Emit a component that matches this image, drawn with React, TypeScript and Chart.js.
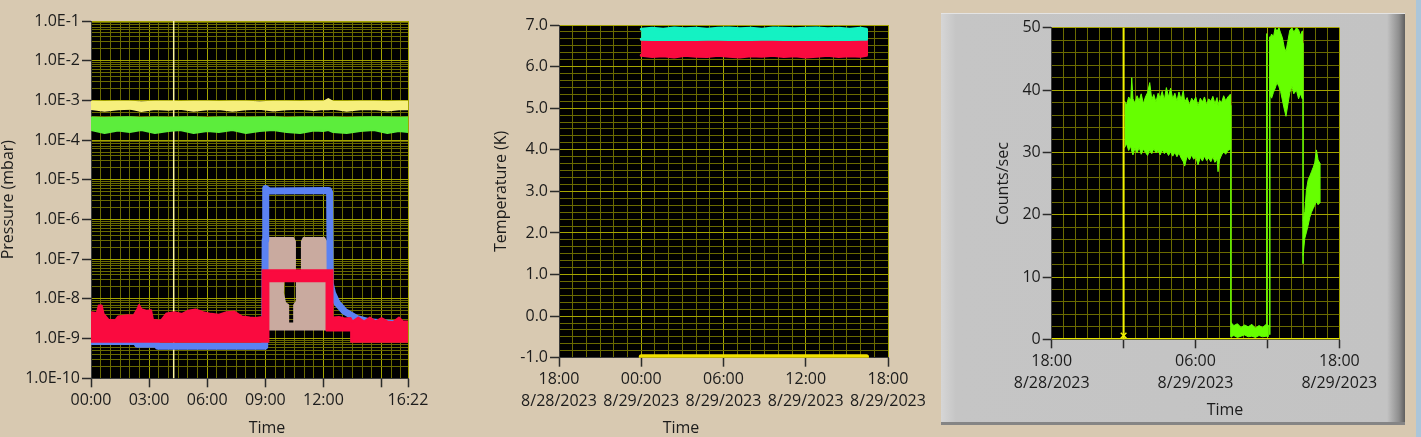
import React, { useEffect, useRef } from 'react';
import { Chart, registerables } from 'chart.js';

Chart.register(...registerables);

// ================= DATA =================
// ---- Chart 1: Pressure (mbar) vs time, hours after 8/29/2023 00:00 ----
const pressureEndHours = 16 + 22 / 60;
const pressureTickHours = [0, 3, 6, 9, 12, 15];
const pressureLabelHours = [0, 3, 6, 9, 12];
const pressureDecades = [-10, -9, -8, -7, -6, -5, -4, -3, -2, -1];
const pressureCursorHours = 4.27;

const gaugeHours = [0, 0.7, 1.4, 2.0, 2.6, 3.3, 4.0, 4.6, 5.3, 6.0, 6.6, 7.3, 8.0, 8.7, 9.4, 10.1, 10.8, 11.5, 12.0, 12.25, 12.5, 13.2, 13.9, 14.6, 15.3, 15.9, 16.367];
const yellowHigh = [9.2e-4, 9.1e-4, 9.3e-4, 9.2e-4, 9.0e-4, 9.2e-4, 9.3e-4, 9.1e-4, 9.2e-4, 9.3e-4, 9.1e-4, 9.2e-4, 9.2e-4, 9.0e-4, 9.2e-4, 9.3e-4, 9.1e-4, 9.2e-4, 9.2e-4, 1.08e-3, 9.2e-4, 9.1e-4, 9.3e-4, 9.2e-4, 9.1e-4, 9.2e-4, 9.2e-4];
const yellowLow = [6.1e-4, 5.5e-4, 6.0e-4, 6.2e-4, 5.4e-4, 6.1e-4, 5.8e-4, 6.2e-4, 5.5e-4, 6.0e-4, 6.1e-4, 5.5e-4, 6.0e-4, 6.2e-4, 5.6e-4, 6.0e-4, 6.2e-4, 5.7e-4, 6.1e-4, 6.0e-4, 6.2e-4, 5.5e-4, 6.0e-4, 6.1e-4, 5.6e-4, 6.0e-4, 6.0e-4];
const greenHigh = [3.7e-4, 3.6e-4, 3.7e-4, 3.75e-4, 3.6e-4, 3.7e-4, 3.65e-4, 3.7e-4, 3.75e-4, 3.6e-4, 3.7e-4, 3.7e-4, 3.65e-4, 3.7e-4, 3.75e-4, 3.6e-4, 3.7e-4, 3.7e-4, 3.65e-4, 3.7e-4, 3.7e-4, 3.6e-4, 3.7e-4, 3.75e-4, 3.7e-4, 3.65e-4, 3.7e-4];
const greenLow = [1.8e-4, 1.5e-4, 1.75e-4, 1.6e-4, 1.8e-4, 1.5e-4, 1.7e-4, 1.8e-4, 1.5e-4, 1.7e-4, 1.6e-4, 1.8e-4, 1.5e-4, 1.7e-4, 1.8e-4, 1.6e-4, 1.5e-4, 1.75e-4, 1.7e-4, 1.8e-4, 1.6e-4, 1.5e-4, 1.7e-4, 1.8e-4, 1.5e-4, 1.7e-4, 1.6e-4];

const redOutlineHours = [0, 0.3, 0.4, 0.55, 0.65, 0.9, 1.25, 1.4, 1.9, 2.2, 2.4, 2.48, 2.6, 2.9, 3.1, 3.2, 3.6, 3.9, 4.3, 4.7, 5.0, 5.4, 5.8, 6.2, 6.6, 7.0, 7.4, 7.8, 8.2, 8.5, 8.84, 8.86, 12.45, 12.47, 12.8, 13.1, 13.4, 13.5, 13.8, 14.1, 14.4, 14.7, 15.0, 15.3, 15.6, 15.9, 16.1, 16.367, 16.367, 13.45, 13.43, 12.18, 12.16, 9.16, 9.16, 0];
const redOutlineValues = [4.6e-9, 4.4e-9, 6.8e-9, 6.8e-9, 4.2e-9, 3.0e-9, 2.9e-9, 3.6e-9, 3.9e-9, 3.8e-9, 5.6e-9, 7.0e-9, 5.5e-9, 5.0e-9, 5.2e-9, 3.0e-9, 2.8e-9, 4.3e-9, 4.6e-9, 4.2e-9, 5.0e-9, 5.4e-9, 4.6e-9, 4.2e-9, 4.0e-9, 4.6e-9, 4.8e-9, 3.6e-9, 3.4e-9, 3.3e-9, 3.5e-9, 5.3e-8, 5.3e-8, 3.4e-9, 3.5e-9, 3.2e-9, 3.3e-9, 2.7e-9, 3.4e-9, 2.7e-9, 3.4e-9, 2.7e-9, 3.3e-9, 2.7e-9, 2.6e-9, 3.4e-9, 2.7e-9, 2.7e-9, 8.3e-10, 8.3e-10, 1.6e-9, 1.6e-9, 2.8e-8, 2.8e-8, 8.3e-10, 8.3e-10];

const blueHours = [0, 2.35, 2.4, 3.4, 3.45, 8.97, 8.99, 9.02, 9.2, 10.5, 12.28, 12.32, 12.35, 12.47, 12.71, 13.1, 13.7, 14.39, 15.0, 15.59, 15.8];
const blueValues = [8.5e-10, 8.5e-10, 7.2e-10, 7.2e-10, 6.4e-10, 6.4e-10, 3e-7, 6.0e-6, 5.2e-6, 5.3e-6, 5.4e-6, 4.8e-6, 2.5e-8, 1.38e-8, 7.8e-9, 4.8e-9, 3.25e-9, 2.65e-9, 2.5e-9, 2.4e-9, 2.4e-9];

const beigeHours = [8.93, 9.05, 10.45, 10.53, 10.53, 9.93, 9.91, 10.02, 10.18, 10.18, 10.49, 10.49, 10.6, 10.63, 10.63, 10.89, 10.89, 10.97, 12.05, 12.17, 12.22, 9.02, 8.93];
const beigeValues = [2.3e-7, 3.4e-7, 3.4e-7, 2.8e-7, 4e-8, 4e-8, 1.4e-8, 8e-9, 7e-9, 2.4e-9, 2.4e-9, 7e-9, 8.5e-9, 1.4e-8, 4e-8, 4e-8, 2.8e-7, 3.4e-7, 3.4e-7, 2.6e-7, 1.7e-9, 1.7e-9, 5e-9];

// ---- Chart 2: Temperature (K), hours after 8/29/2023 00:00 ----
const dayTickHours = [-6, 0, 6, 12, 18];
const dayTickLabels = [['18:00', '8/28/2023'], ['00:00', '8/29/2023'], ['06:00', '8/29/2023'], ['12:00', '8/29/2023'], ['18:00', '8/29/2023']];
const tempHours = [0, 0.8, 1.6, 2.4, 3.2, 4.0, 4.8, 5.6, 6.4, 7.2, 8.0, 8.8, 9.6, 10.4, 11.2, 12.0, 12.8, 13.6, 14.4, 15.2, 16.0, 16.43];
const cyanHigh = [6.9, 6.92, 6.9, 6.93, 6.91, 6.92, 6.9, 6.92, 6.93, 6.91, 6.92, 6.9, 6.93, 6.92, 6.91, 6.92, 6.93, 6.91, 6.92, 6.9, 6.92, 6.9];
const cyanLow = [6.66, 6.65, 6.66, 6.65, 6.66, 6.65, 6.66, 6.66, 6.65, 6.66, 6.65, 6.66, 6.66, 6.65, 6.66, 6.65, 6.66, 6.65, 6.66, 6.65, 6.66, 6.66];
const redTempHigh = [6.66, 6.66, 6.66, 6.66, 6.66, 6.66, 6.66, 6.66, 6.66, 6.66, 6.66, 6.66, 6.66, 6.66, 6.66, 6.66, 6.66, 6.66, 6.66, 6.66, 6.66, 6.66];
const redTempLow = [6.27, 6.24, 6.26, 6.23, 6.27, 6.25, 6.24, 6.27, 6.25, 6.23, 6.26, 6.25, 6.27, 6.24, 6.26, 6.23, 6.25, 6.27, 6.24, 6.26, 6.25, 6.27];
const yellowTempHours = [0, 16.43];
const yellowTempValues = [-0.98, -0.98];

// ---- Chart 3: Counts/sec, hours after 8/29/2023 00:00 ----
const countsLabelHours = [-6, 6, 18];
const countsCursorHours = 0;
const countsSeg1Hours = [0.09, 0.25, 0.42, 0.6, 0.68, 0.78, 0.95, 1.12, 1.3, 1.47, 1.65, 1.82, 2.0, 2.18, 2.35, 2.52, 2.7, 2.88, 3.05, 3.22, 3.4, 3.57, 3.75, 3.92, 4.1, 4.28, 4.45, 4.62, 4.8, 4.98, 5.1, 5.3, 5.5, 5.68, 5.85, 6.02, 6.21, 6.4, 6.58, 6.75, 6.93, 7.1, 7.28, 7.45, 7.62, 7.8, 7.88, 8.0, 8.18, 8.35, 8.52, 8.7, 8.9];
const countsSeg1High = [38.2, 37.6, 38.9, 38.4, 42.0, 38.6, 37.9, 39.1, 38.3, 39.4, 37.8, 38.9, 39.6, 41.2, 38.5, 39.3, 38.1, 39.5, 38.7, 39.8, 38.4, 40.4, 38.9, 40.3, 38.6, 39.5, 38.2, 39.7, 38.5, 39.9, 38.1, 38.8, 37.6, 38.7, 38.2, 38.9, 37.4, 38.7, 38.1, 38.9, 37.6, 38.6, 38.2, 39.0, 37.8, 38.8, 37.5, 38.4, 38.0, 39.1, 38.3, 38.9, 39.3];
const countsSeg1Low = [30.8, 31.4, 30.3, 31.0, 30.2, 29.6, 30.7, 29.9, 30.8, 29.7, 30.5, 30.0, 29.5, 30.4, 29.8, 30.6, 29.9, 30.3, 29.6, 30.4, 29.8, 30.2, 29.5, 30.1, 29.4, 30.0, 29.3, 29.9, 29.1, 28.5, 27.8, 29.4, 28.8, 29.6, 28.9, 29.3, 28.0, 29.2, 28.6, 29.4, 28.7, 29.1, 28.5, 29.3, 28.4, 28.9, 26.9, 28.8, 29.6, 30.1, 29.7, 30.3, 30.5];
const countsSeg2Hours = [8.96, 9.2, 9.5, 9.8, 10.1, 10.4, 10.7, 11.0, 11.3, 11.6, 11.9, 12.05];
const countsSeg2High = [2.7, 2.2, 2.5, 1.9, 2.3, 2.0, 2.4, 1.8, 2.2, 1.9, 2.4, 2.3];
const countsSeg2Low = [0.4, 0.6, 0.3, 0.5, 0.7, 0.4, 0.5, 0.3, 0.6, 0.4, 0.5, 0.4];
const countsSeg3Hours = [12.2, 12.35, 12.5, 12.65, 12.8, 12.95, 13.1, 13.25, 13.4, 13.55, 13.7, 13.87, 14.05, 14.2, 14.42, 14.6, 14.75, 14.92];
const countsSeg3High = [48.2, 49.0, 48.5, 50.0, 49.4, 50.0, 49.2, 48.4, 46.9, 46.2, 47.8, 49.6, 50.0, 49.3, 50.0, 49.7, 48.8, 49.5];
const countsSeg3Low = [39.3, 38.7, 39.6, 40.3, 41.2, 40.6, 39.8, 38.4, 37.0, 35.8, 37.6, 39.6, 40.6, 39.4, 40.0, 38.6, 39.4, 38.6];
const countsSeg4Hours = [14.98, 15.12, 15.26, 15.4, 15.54, 15.68, 15.82, 15.95, 16.09, 16.23, 16.37];
const countsSeg4High = [19.0, 20.5, 24.0, 25.6, 26.2, 26.9, 27.6, 28.3, 30.4, 28.8, 28.3];
const countsSeg4Low = [13.5, 16.2, 17.2, 18.3, 19.6, 20.4, 21.0, 21.5, 22.1, 21.6, 21.9];
const countsJumpHours = [8.95, 8.95, 8.95, 11.95, 11.95, 11.95, 12.2, 12.2, 12.2, 14.97, 14.97];
const countsJumpValues = [37.5, 0.5, null, 1.5, 49.0, null, 0.8, 48.5, null, 47.5, 12.2];

// ================= STYLE =================
const TAN = '#d8c9b1';
const FONT_FAMILY = "'Open Sans', 'Noto Sans', sans-serif";
const TEXT = '#1c1c1c';
const GRID_MINOR = '#6a6a00';
const GRID_MAJOR = '#a4a400';
const TICK_MARK = '#2b2b2b';
const tickFont = { family: FONT_FAMILY, size: 16, lineHeight: 1.375 };
const titleFont = { family: FONT_FAMILY, size: 16, lineHeight: 1 };

type Tick = { value: number; major: boolean; text: string | string[] };

const hhmm = (h: number) => {
  const m = Math.round(h * 60);
  return `${String(Math.floor(m / 60)).padStart(2, '0')}:${String(m % 60).padStart(2, '0')}`;
};

const pts = (t: number[], v: (number | null)[]) => t.map((x, i) => ({ x, y: v[i] }));
const band = (t: number[], hi: number[], lo: number[]) => [...pts(t, hi), ...pts(t, lo).reverse()];

function pressureXTicks(): Tick[] {
  const out: Tick[] = [];
  for (let h = 0; h < pressureEndHours - 0.01; h += 0.5) {
    const major = pressureTickHours.includes(h);
    out.push({ value: h, major, text: pressureLabelHours.includes(h) ? hhmm(h) : '' });
  }
  out.push({ value: pressureEndHours, major: true, text: hhmm(pressureEndHours) });
  return out;
}
function pressureYTicks(): Tick[] {
  const out: Tick[] = [];
  for (const e of pressureDecades) {
    if (e === -1) { out.push({ value: 0.1, major: true, text: '1.0E-1' }); continue; }
    for (let k = 1; k <= 9; k++) out.push({ value: k * Math.pow(10, e), major: k === 1, text: k === 1 ? `1.0E${e}` : '' });
  }
  return out;
}
function dayXTicks(labelHours: number[]): Tick[] {
  const out: Tick[] = [];
  for (let h = -6; h <= 18; h++) {
    const idx = dayTickHours.indexOf(h);
    out.push({ value: h, major: idx >= 0, text: idx >= 0 && labelHours.includes(h) ? dayTickLabels[idx] : '' });
  }
  return out;
}
function tempYTicks(): Tick[] {
  const out: Tick[] = [];
  for (let i = -6; i <= 42; i++) out.push({ value: i / 6, major: i % 6 === 0, text: i % 6 === 0 ? (i / 6).toFixed(1) : '' });
  return out;
}
function countsYTicks(): Tick[] {
  const out: Tick[] = [];
  for (let v = 0; v <= 50; v += 2) out.push({ value: v, major: v % 10 === 0, text: v % 10 === 0 ? String(v) : '' });
  return out;
}

function axis(type: string, min: number, max: number, ticks: () => Tick[], size: number, horizontal: boolean, title?: string, titlePad = 0) {
  return {
    type, min, max,
    afterBuildTicks: (s: any) => { s.ticks = ticks(); },
    afterFit: (s: any) => { if (horizontal) s.height = size; else s.width = size; },
    grid: {
      color: (c: any) => (c.tick && c.tick.major ? GRID_MAJOR : GRID_MINOR),
      lineWidth: 1,
      drawTicks: true,
      tickLength: 9,
      tickWidth: 1.5,
      tickColor: (c: any) => (c.tick && c.tick.major ? TICK_MARK : 'rgba(0,0,0,0)'),
    },
    border: { display: true, color: '#3a3a3a', width: 1 },
    ticks: {
      autoSkip: false, maxRotation: 0, minRotation: 0, padding: 2, color: TEXT, font: tickFont,
      callback: (_v: any, i: number, ts: any[]) => (ts[i] && ts[i].text !== undefined ? ts[i].text : ''),
    },
    title: title ? { display: true, text: title, color: TEXT, font: titleFont, padding: { top: titlePad, bottom: 0 } } : { display: false },
  };
}

const plotBg = {
  id: 'plotBg',
  beforeDraw(chart: any) {
    const { ctx, chartArea: a } = chart;
    ctx.save();
    ctx.fillStyle = '#000';
    ctx.fillRect(a.left, a.top, a.right - a.left, a.bottom - a.top);
    ctx.restore();
  },
};
const timeTitle = (x: number, y: number) => ({
  id: 'timeTitle',
  afterDraw(chart: any) {
    const ctx = chart.ctx;
    ctx.save();
    ctx.font = `16px ${FONT_FAMILY}`;
    ctx.fillStyle = TEXT;
    ctx.textAlign = 'center';
    ctx.textBaseline = 'middle';
    ctx.fillText('Time', x, y);
    ctx.restore();
  },
});

const shape = (data: any[], color: string, order: number, bw = 2) => ({
  data, borderColor: color, backgroundColor: color, borderWidth: bw, pointRadius: 0,
  fill: 'shape', tension: 0, order, borderJoinStyle: 'round', borderCapStyle: 'round',
});
const line = (data: any[], color: string, width: number, order: number) => ({
  data, borderColor: color, backgroundColor: color, borderWidth: width, pointRadius: 0,
  fill: false, tension: 0, order, borderJoinStyle: 'round', borderCapStyle: 'round', spanGaps: false,
});

const baseOptions = (padding: any, scales: any) => ({
  animation: false, responsive: false, devicePixelRatio: 1, events: [],
  layout: { padding },
  plugins: { legend: { display: false }, tooltip: { enabled: false } },
  scales,
});

function pressureConfig(): any {
  return {
    type: 'line',
    data: {
      datasets: [
        line(pts([pressureCursorHours, pressureCursorHours], [1e-10, 1e-1]), '#fbf49c', 1.5, 10),
        shape(band(gaugeHours, yellowHigh, yellowLow), '#f6ef7c', 5),
        shape(band(gaugeHours, greenHigh, greenLow), '#5ced3c', 5),
        shape(pts(beigeHours, beigeValues), '#c9aa9f', 3),
        line(pts(blueHours, blueValues), '#5b82f2', 7, 2),
        shape(pts(redOutlineHours, redOutlineValues), '#fa0a3f', 1),
      ],
    },
    options: baseOptions({ left: 0, top: 21, right: 62, bottom: 0 }, {
      x: axis('linear', 0, pressureEndHours, pressureXTicks, 58.7, true),
      y: axis('logarithmic', 1e-10, 1e-1, pressureYTicks, 91, false, 'Pressure (mbar)', 0),
    }),
    plugins: [plotBg, timeTitle(267, 428)],
  };
}

function tempConfig(): any {
  return {
    type: 'line',
    data: {
      datasets: [
        shape(band(tempHours, redTempHigh, redTempLow), '#fa0a3f', 2, 3),
        shape(band(tempHours, cyanHigh, cyanLow), '#14f2c3', 1, 3),
        line(pts(yellowTempHours, yellowTempValues), '#f2e200', 5, 3),
      ],
    },
    options: baseOptions({ left: 0, top: 25, right: 52, bottom: 0 }, {
      x: axis('linear', -6, 18, () => dayXTicks(dayTickHours), 79.3, true),
      y: axis('linear', -1, 7, tempYTicks, 89, false, 'Temperature (K)', 23),
    }),
    plugins: [plotBg, timeTitle(211, 428)],
  };
}

function countsConfig(): any {
  const green = '#66ff00';
  return {
    type: 'line',
    data: {
      datasets: [
        line(pts([-6, 18], [0, 0]), '#e6e600', 2.5, 0),
        line(pts([countsCursorHours, countsCursorHours], [0, 50]), '#f2f200', 2, 0),
        { data: [{ x: countsCursorHours, y: 0.6 }], showLine: false, pointStyle: 'crossRot', pointRadius: 4, borderColor: '#f2f200', borderWidth: 1.5, order: 0 },
        line(pts(countsJumpHours, countsJumpValues), green, 1.5, 2),
        shape(band(countsSeg1Hours, countsSeg1High, countsSeg1Low), green, 2, 1),
        shape(band(countsSeg2Hours, countsSeg2High, countsSeg2Low), green, 2, 1),
        shape(band(countsSeg3Hours, countsSeg3High, countsSeg3Low), green, 2, 1),
        shape(band(countsSeg4Hours, countsSeg4High, countsSeg4Low), green, 2, 1),
      ],
    },
    options: baseOptions({ left: 0, top: 27.8, right: 65.7, bottom: 0 }, {
      x: axis('linear', -6, 18, () => dayXTicks(countsLabelHours), 97.7, true),
      y: axis('linear', 0, 50, countsYTicks, 110.7, false, 'Counts/sec', 54),
    }),
    plugins: [plotBg, timeTitle(284, 410)],
  };
}

function ChartCanvas({ left, top, width, height, build }: { left: number; top: number; width: number; height: number; build: () => any }) {
  const ref = useRef<HTMLCanvasElement>(null);
  useEffect(() => {
    const chart = new Chart(ref.current as HTMLCanvasElement, build());
    return () => chart.destroy();
  }, []);
  return <canvas ref={ref} width={width} height={height} style={{ position: 'absolute', left, top, width, height }} />;
}

export default function App() {
  return (
    <div style={{ position: 'fixed', left: 0, top: 0, width: 1421, height: 437, background: TAN, overflow: 'hidden' }}>
      <div
        style={{
          position: 'absolute', left: 941, top: 13, width: 464, height: 412, boxSizing: 'border-box',
          background: 'linear-gradient(to right, #d6d6d6 0px, #c5c5c5 15px, #c3c3c3 calc(100% - 18px), #8e8e8e calc(100% - 6px), #5e5e5e 100%)',
          borderTop: '1px solid #e4e4e4', borderBottom: '3px solid #858585',
        }}
      />
      <div style={{ position: 'absolute', left: 1416, top: 0, width: 5, height: 437, background: '#abc6da' }} />
      <ChartCanvas left={0} top={0} width={470} height={437} build={pressureConfig} />
      <ChartCanvas left={470} top={0} width={470} height={437} build={tempConfig} />
      <ChartCanvas left={941} top={0} width={464} height={437} build={countsConfig} />
    </div>
  );
}
